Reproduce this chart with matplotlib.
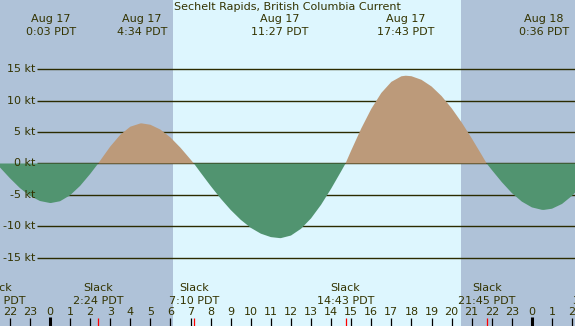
import matplotlib
matplotlib.use("Agg")
import matplotlib.pyplot as plt
import numpy as np

# ---- data ----
title = "Sechelt Rapids, British Columbia Current"
# current speed (kt) vs hours from Aug 17 00:00 PDT
hours = [-2.5, -2.0, -1.5, -1.0, -0.5, 0.0, 0.05, 0.5, 1.0, 1.5, 2.0, 2.4,
         2.5, 3.0, 3.5, 4.0, 4.5, 4.567, 5.0, 5.5, 6.0, 6.5, 7.0, 7.167,
         7.5, 8.0, 8.5, 9.0, 9.5, 10.0, 10.5, 11.0, 11.45, 11.5, 12.0, 12.5,
         13.0, 13.5, 14.0, 14.5, 14.717, 15.0, 15.5, 16.0, 16.5, 17.0, 17.5,
         17.717, 18.0, 18.5, 19.0, 19.5, 20.0, 20.5, 21.0, 21.5, 21.75,
         22.0, 22.5, 23.0, 23.5, 24.0, 24.5, 24.6, 25.0, 25.5, 26.0, 26.5]
speed = [-0.6, -2.33, -3.91, -5.16, -5.98, -6.3, -6.3, -6.02, -5.07, -3.57, -1.67, 0.0,
         0.46, 2.7, 4.58, 5.87, 6.39, 6.4, 6.18, 5.41, 4.15, 2.51, 0.64, 0.0,
         -1.45, -3.58, -5.59, -7.41, -8.98, -10.26, -11.19, -11.74, -11.9, -11.9, -11.49, -10.41,
         -8.75, -6.58, -4.02, -1.24, 0.0, 2.07, 5.58, 8.71, 11.25, 13.02, 13.91,
         14.0, 13.92, 13.35, 12.29, 10.76, 8.82, 6.55, 4.03, 1.36, 0.0,
         -1.02, -2.97, -4.71, -6.08, -7.0, -7.39, -7.4, -7.21, -6.45, -5.15, -3.45]

# max current events (top labels)
max_times = [0.05, 4.567, 11.45, 17.717, 24.6]
max_dates = ["Aug 17", "Aug 17", "Aug 17", "Aug 17", "Aug 18"]
max_labels = ["0:03 PDT", "4:34 PDT", "11:27 PDT", "17:43 PDT", "0:36 PDT"]
# slack events (bottom labels)
slack_times = [-2.63, 2.4, 7.167, 14.717, 21.75, 27.3]
slack_labels = ["21:22 PDT", "2:24 PDT", "7:10 PDT", "14:43 PDT", "21:45 PDT", "3:18 PDT"]
# sunrise / sunset
sunrise = 6.12
sunset = 20.47
yticks = [15, 10, 5, 0, -5, -10, -15]
hour_ticks = list(range(-2, 27))

# ---- style / layout ----
W, H = 575, 326
X0, XS = 50.0, 20.08      # pixel of hour 0, px per hour
Y0, YS = 163.5, 6.27      # pixel of 0 kt, px per kt
night = "#AFC2D8"
day = "#DDF6FE"
flood = "#BC9A7A"
ebb = "#519470"
linec = "#2B2B00"
txtc = "#333300"
fs = 8

def xd(p):
    return (p - X0) / XS

def yd(p):
    return (Y0 - p) / YS

fig = plt.figure(figsize=(W / 100, H / 100), dpi=100)
ax = fig.add_axes([0, 0, 1, 1])
ax.set_xlim(xd(0), xd(W))
ax.set_ylim(yd(H), yd(0))
ax.axis("off")
ax.add_patch(plt.Rectangle((xd(0), yd(H)), xd(W) - xd(0), yd(0) - yd(H),
                           color=day, zorder=0))
ax.axvspan(xd(0), sunrise, color=night, lw=0, zorder=0.5)
ax.axvspan(sunset, xd(W), color=night, lw=0, zorder=0.5)

# grid lines + labels
for v in yticks:
    ax.plot([xd(37), xd(W)], [v, v], color=linec, lw=1.0, zorder=1,
            solid_capstyle="butt")
    ax.text(xd(35), v, f"{v} kt", ha="right", va="center", fontsize=fs,
            color=txtc, zorder=3)

t = np.array(hours)
s = np.array(speed)
ax.fill_between(t, 0, s, where=s >= 0, interpolate=True, color=flood, lw=0, zorder=2)
ax.fill_between(t, 0, s, where=s <= 0, interpolate=True, color=ebb, lw=0, zorder=2)

# title
ax.text(xd(W / 2), yd(7), title, ha="center", va="center", fontsize=fs, color=txtc)

# max labels
for tm, dte, lab in zip(max_times, max_dates, max_labels):
    ax.text(tm, yd(19.5), dte, ha="center", va="center", fontsize=fs, color=txtc)
    ax.text(tm, yd(32), lab, ha="center", va="center", fontsize=fs, color=txtc)

# slack labels
for ts, lab in zip(slack_times, slack_labels):
    ax.text(ts, yd(288), "Slack", ha="center", va="center", fontsize=fs, color=txtc)
    ax.text(ts, yd(300.5), lab, ha="center", va="center", fontsize=fs, color=txtc)

# hour labels and ticks
for h in hour_ticks:
    ax.text(h, yd(312), str(h % 24), ha="center", va="center", fontsize=fs, color=txtc)
    if h % 24 == 0:
        ax.plot([h, h], [yd(H), yd(317)], color="black", lw=2.2, zorder=4,
                solid_capstyle="butt")
    else:
        ax.plot([h, h], [yd(H), yd(318)], color="black", lw=0.9, zorder=4,
                solid_capstyle="butt")
for ts in slack_times:
    ax.plot([ts, ts], [yd(H), yd(318)], color="red", lw=0.9, zorder=4,
            solid_capstyle="butt")

fig.savefig("out.png", dpi=100)
